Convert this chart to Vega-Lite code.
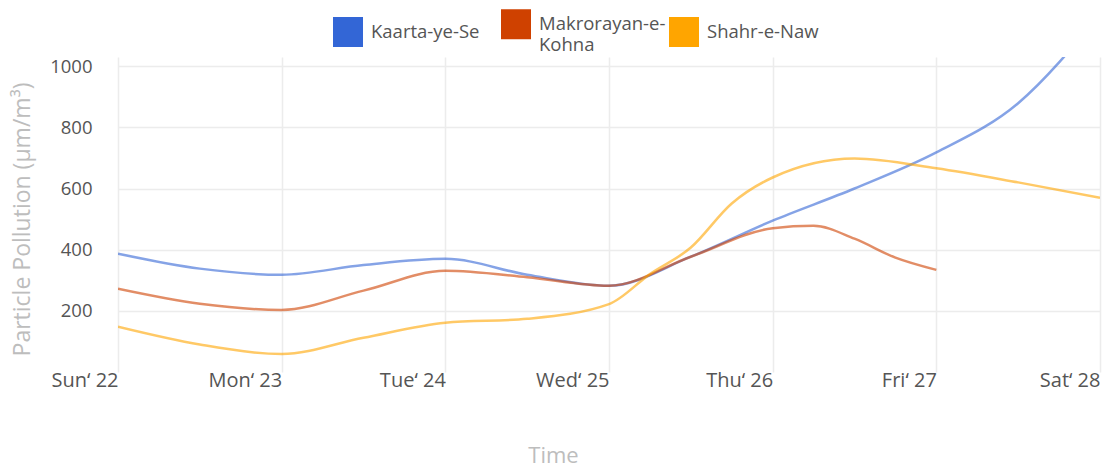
{
  "$schema": "https://vega.github.io/schema/vega-lite/v6.json",
  "autosize": {"type": "none"},
  "padding": {"left": 118, "top": 57, "right": 2, "bottom": 96},
  "width": 982,
  "height": 315,
  "background": "white",
  "config": {
    "font": "Open Sans",
    "view": {"stroke": null},
    "axis": {"domain": false, "ticks": false, "gridColor": "#ececec", "gridWidth": 1.5, "labelColor": "#555555", "labelFontSize": 18.5, "titleColor": "#bdbdbd", "titleFontSize": 23, "titleFontWeight": "normal"}
  },
  "data": {
    "values": [
      {"t": "2023-10-22T00:00", "s": "Kaarta-ye-Se", "v": 387},
      {"t": "2023-10-22T12:00", "s": "Kaarta-ye-Se", "v": 338},
      {"t": "2023-10-23T00:00", "s": "Kaarta-ye-Se", "v": 318},
      {"t": "2023-10-23T12:00", "s": "Kaarta-ye-Se", "v": 350},
      {"t": "2023-10-24T00:00", "s": "Kaarta-ye-Se", "v": 370},
      {"t": "2023-10-24T12:00", "s": "Kaarta-ye-Se", "v": 318},
      {"t": "2023-10-25T00:00", "s": "Kaarta-ye-Se", "v": 282},
      {"t": "2023-10-25T12:00", "s": "Kaarta-ye-Se", "v": 377},
      {"t": "2023-10-26T00:00", "s": "Kaarta-ye-Se", "v": 495},
      {"t": "2023-10-26T12:00", "s": "Kaarta-ye-Se", "v": 600},
      {"t": "2023-10-27T00:00", "s": "Kaarta-ye-Se", "v": 718},
      {"t": "2023-10-27T12:00", "s": "Kaarta-ye-Se", "v": 879},
      {"t": "2023-10-28T00:00", "s": "Kaarta-ye-Se", "v": 1170},
      {"t": "2023-10-22T00:00", "s": "Makrorayan-e-Kohna", "v": 272},
      {"t": "2023-10-22T12:00", "s": "Makrorayan-e-Kohna", "v": 223},
      {"t": "2023-10-23T00:00", "s": "Makrorayan-e-Kohna", "v": 203},
      {"t": "2023-10-23T12:00", "s": "Makrorayan-e-Kohna", "v": 266},
      {"t": "2023-10-24T00:00", "s": "Makrorayan-e-Kohna", "v": 331},
      {"t": "2023-10-24T12:00", "s": "Makrorayan-e-Kohna", "v": 310},
      {"t": "2023-10-25T00:00", "s": "Makrorayan-e-Kohna", "v": 282},
      {"t": "2023-10-25T12:00", "s": "Makrorayan-e-Kohna", "v": 377},
      {"t": "2023-10-26T00:00", "s": "Makrorayan-e-Kohna", "v": 470},
      {"t": "2023-10-26T06:00", "s": "Makrorayan-e-Kohna", "v": 478},
      {"t": "2023-10-26T12:00", "s": "Makrorayan-e-Kohna", "v": 436},
      {"t": "2023-10-26T18:00", "s": "Makrorayan-e-Kohna", "v": 374},
      {"t": "2023-10-27T00:00", "s": "Makrorayan-e-Kohna", "v": 334},
      {"t": "2023-10-22T00:00", "s": "Shahr-e-Naw", "v": 148},
      {"t": "2023-10-22T12:00", "s": "Shahr-e-Naw", "v": 90},
      {"t": "2023-10-23T00:00", "s": "Shahr-e-Naw", "v": 59},
      {"t": "2023-10-23T12:00", "s": "Shahr-e-Naw", "v": 112},
      {"t": "2023-10-24T00:00", "s": "Shahr-e-Naw", "v": 161},
      {"t": "2023-10-24T12:00", "s": "Shahr-e-Naw", "v": 174},
      {"t": "2023-10-25T00:00", "s": "Shahr-e-Naw", "v": 222},
      {"t": "2023-10-25T06:00", "s": "Shahr-e-Naw", "v": 320},
      {"t": "2023-10-25T12:00", "s": "Shahr-e-Naw", "v": 407},
      {"t": "2023-10-25T18:00", "s": "Shahr-e-Naw", "v": 551},
      {"t": "2023-10-26T00:00", "s": "Shahr-e-Naw", "v": 636},
      {"t": "2023-10-26T12:00", "s": "Shahr-e-Naw", "v": 698},
      {"t": "2023-10-27T00:00", "s": "Shahr-e-Naw", "v": 666},
      {"t": "2023-10-27T12:00", "s": "Shahr-e-Naw", "v": 620},
      {"t": "2023-10-28T00:00", "s": "Shahr-e-Naw", "v": 570}
    ]
  },
  "mark": {"type": "line", "interpolate": "monotone", "strokeWidth": 2.5, "opacity": 0.6, "clip": true},
  "encoding": {
    "x": {
      "field": "t", "type": "temporal", "title": "Time",
      "scale": {"domain": [{"year": 2023, "month": 10, "date": 22}, {"year": 2023, "month": 10, "date": 28}]},
      "axis": {
        "values": [
          {"year": 2023, "month": 10, "date": 22}, {"year": 2023, "month": 10, "date": 23},
          {"year": 2023, "month": 10, "date": 24}, {"year": 2023, "month": 10, "date": 25},
          {"year": 2023, "month": 10, "date": 26}, {"year": 2023, "month": 10, "date": 27},
          {"year": 2023, "month": 10, "date": 28}
        ],
        "format": "%a‘ %d", "labelAlign": "right", "labelDx": -7, "labelPadding": -2, "labelBaseline": "top", "labelFontSize": 20,
        "labelOverlap": false, "labelFlush": false,
        "titleX": 435, "titleY": 73, "titleBaseline": "top", "titleAnchor": null, "titleAlign": "center", "titleFontSize": 22
      }
    },
    "y": {
      "field": "v", "type": "quantitative", "title": "Particle Pollution (μm/m³)",
      "scale": {"domain": [0, 1030], "nice": false},
      "axis": {"values": [200, 400, 600, 800, 1000], "format": "d", "labelPadding": 26, "titleX": -96, "titleY": 162, "titleAngle": -90, "titleBaseline": "middle", "titleAlign": "center"}
    },
    "color": {
      "field": "s", "type": "nominal", "title": null,
      "scale": {"domain": ["Kaarta-ye-Se", "Makrorayan-e-Kohna", "Shahr-e-Naw"], "range": ["#3366d6", "#cf4100", "#ffa500"]},
      "legend": {
        "orient": "none", "direction": "horizontal", "legendX": 215, "legendY": -48,
        "symbolType": "square", "symbolSize": 900, "symbolStrokeWidth": 0, "symbolOpacity": 1,
        "labelFontSize": 18.5, "labelColor": "#555555", "labelOffset": 8, "columnPadding": 3, "gridAlign": "all",
        "labelExpr": "datum.label == 'Makrorayan-e-Kohna' ? ['Makrorayan-e-', 'Kohna'] : datum.label",
        "labelLimit": 300,
        "encode": {
          "symbols": {"update": {"fill": {"scale": "color", "field": "value"}, "fillOpacity": {"value": 1}, "opacity": {"value": 1}}},
          "labels": {"update": {"lineHeight": {"value": 21}}}
        }
      }
    }
  }
}
